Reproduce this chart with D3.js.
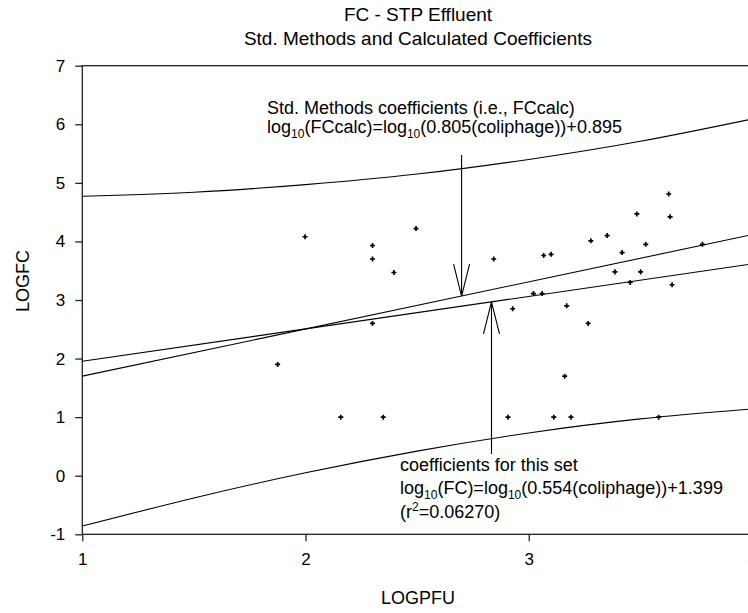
<!DOCTYPE html>
<html>
<head>
<meta charset="utf-8">
<script src="https://cdn.jsdelivr.net/npm/d3@7"></script>
<style>
  body { margin: 0; background: #fff; }
  svg text { font-family: "Liberation Sans", Arial, sans-serif; fill: #000; }
</style>
</head>
<body>
<div id="chart"></div>
<script>
// 1: DATA
const logPFU = [1.875, 1.998, 2.158, 2.30, 2.30, 2.30, 2.348, 2.396, 2.495, 2.843,
                2.907, 2.928, 3.021, 3.060, 3.067, 3.10, 3.112, 3.161, 3.170, 3.189,
                3.266, 3.278, 3.351, 3.386, 3.418, 3.454, 3.484, 3.501, 3.524, 3.582,
                3.627, 3.633, 3.642, 3.778];
const logFC  = [1.90, 4.08, 1.00, 3.93, 3.70, 2.60, 1.00, 3.47, 4.22, 3.70,
                1.00, 2.85, 3.11, 3.11, 3.76, 3.78, 1.00, 1.70, 2.90, 1.00,
                2.60, 4.01, 4.10, 3.48, 3.81, 3.30, 4.47, 3.48, 3.95, 1.00,
                4.81, 4.42, 3.26, 3.95];

// fitted lines, end points at x = 1 and x = 4
const lineX = [1, 4];
const regY = [1.953, 3.615];   // this set: 1.399 + 0.554x
const stdY = [1.700, 4.115];   // std methods: 0.895 + 0.805x

// prediction band
const bandX = [1, 1.5, 2, 2.5, 3, 3.5, 4];
const bandUpper = [4.77, 4.84, 4.97, 5.15, 5.40, 5.71, 6.09];
const bandLower = [-0.86, -0.38, 0.05, 0.42, 0.73, 0.97, 1.14];

const xTicks = [1, 2, 3, 4];
const yTicks = [-1, 0, 1, 2, 3, 4, 5, 6, 7];

// 2: SIZES
const W = 748, H = 613;
const plotLeft = 82.3, plotTop = 65.7, plotBottom = 534.3, plotRight = 752;

const svg = d3.select("#chart").append("svg")
    .attr("width", W)
    .attr("height", H);

const x = d3.scaleLinear().domain([1, 4]).range([plotLeft, plotRight]);
const y = d3.scaleLinear().domain([-1, 7]).range([plotBottom, plotTop]);

// 3: FRAME AND AXES
svg.append("rect")
    .attr("x", plotLeft).attr("y", plotTop)
    .attr("width", plotRight - plotLeft).attr("height", plotBottom - plotTop)
    .attr("fill", "none")
    .attr("stroke", "#222")
    .attr("stroke-width", 1.3);

const xAxis = svg.append("g")
    .attr("transform", `translate(0,${plotBottom})`)
    .call(d3.axisBottom(x).tickValues(xTicks).tickFormat(d => String(d))
        .tickSize(7).tickPadding(12).tickSizeOuter(0));
xAxis.select(".domain").remove();
xAxis.selectAll("line").attr("stroke", "#222").attr("stroke-width", 1.3);
xAxis.selectAll("text").style("font-size", "17px");

const yAxis = svg.append("g")
    .attr("transform", `translate(${plotLeft},0)`)
    .call(d3.axisLeft(y).tickValues(yTicks).tickFormat(d => String(d))
        .tickSize(7).tickPadding(10).tickSizeOuter(0));
yAxis.select(".domain").remove();
yAxis.selectAll("line").attr("stroke", "#222").attr("stroke-width", 1.3);
yAxis.selectAll("text").style("font-size", "17px");

// 4: TITLES
svg.append("text")
    .attr("x", 418).attr("y", 21)
    .attr("text-anchor", "middle")
    .style("font-size", "19px")
    .text("FC - STP Effluent");

svg.append("text")
    .attr("x", 418).attr("y", 45)
    .attr("text-anchor", "middle")
    .style("font-size", "19px")
    .text("Std. Methods and Calculated Coefficients");

svg.append("text")
    .attr("x", 418).attr("y", 604)
    .attr("text-anchor", "middle")
    .style("font-size", "18px")
    .text("LOGPFU");

svg.append("text")
    .attr("transform", "translate(29,281) rotate(-90)")
    .attr("text-anchor", "middle")
    .style("font-size", "18px")
    .text("LOGFC");

// 5: CURVES
const plot = svg.append("g");

const band = d3.line()
    .x(d => x(d[0]))
    .y(d => y(d[1]))
    .curve(d3.curveNatural);

plot.append("path")
    .attr("d", band(d3.zip(bandX, bandUpper)))
    .attr("fill", "none").attr("stroke", "#000").attr("stroke-width", 1.1);

plot.append("path")
    .attr("d", band(d3.zip(bandX, bandLower)))
    .attr("fill", "none").attr("stroke", "#000").attr("stroke-width", 1.1);

const straight = d3.line().x(d => x(d[0])).y(d => y(d[1]));

plot.append("path")
    .attr("d", straight(d3.zip(lineX, regY)))
    .attr("fill", "none").attr("stroke", "#000").attr("stroke-width", 1.1);

plot.append("path")
    .attr("d", straight(d3.zip(lineX, stdY)))
    .attr("fill", "none").attr("stroke", "#000").attr("stroke-width", 1.1);

// 6: POINTS
plot.selectAll(".pt")
    .data(d3.zip(logPFU, logFC))
    .enter()
    .append("path")
    .attr("class", "pt")
    .attr("transform", d => `translate(${x(d[0])},${y(d[1])})`)
    .attr("d", d3.symbol().type(d3.symbolCross).size(14))
    .attr("fill", "#000");

// 7: ARROWS AND NOTES
function arrow(xv, fromY, toY) {
    const px = x(xv), y0 = y(fromY), y1 = y(toY);
    const dir = y1 > y0 ? -1 : 1;
    plot.append("line")
        .attr("x1", px).attr("y1", y0).attr("x2", px).attr("y2", y1)
        .attr("stroke", "#000").attr("stroke-width", 1.1);
    plot.append("path")
        .attr("d", `M${px - 8},${y1 + dir * 32}L${px},${y1}L${px + 8},${y1 + dir * 32}`)
        .attr("fill", "none").attr("stroke", "#000").attr("stroke-width", 1.1);
}

arrow(2.699, 5.475, 3.068);
arrow(2.833, 0.37, 2.968);

function note(px, py, parts) {
    const t = svg.append("text")
        .attr("x", px).attr("y", py)
        .style("font-size", "18px");
    let shift = 0;
    parts.forEach(([s, kind]) => {
        const want = kind === "sub" ? 5 : kind === "sup" ? -7 : 0;
        t.append("tspan")
            .attr("dy", want - shift)
            .style("font-size", kind ? "12px" : "18px")
            .text(s);
        shift = want;
    });
}

note(267, 114, [["Std. Methods coefficients (i.e., FCcalc)"]]);
note(267, 133, [["log"], ["10", "sub"], ["(FCcalc)=log"], ["10", "sub"], ["(0.805(coliphage))+0.895"]]);

note(400, 471, [["coefficients for this set"]]);
note(400, 494, [["log"], ["10", "sub"], ["(FC)=log"], ["10", "sub"], ["(0.554(coliphage))+1.399"]]);
note(400, 518, [["(r"], ["2", "sup"], ["=0.06270)"]]);
</script>
</body>
</html>
